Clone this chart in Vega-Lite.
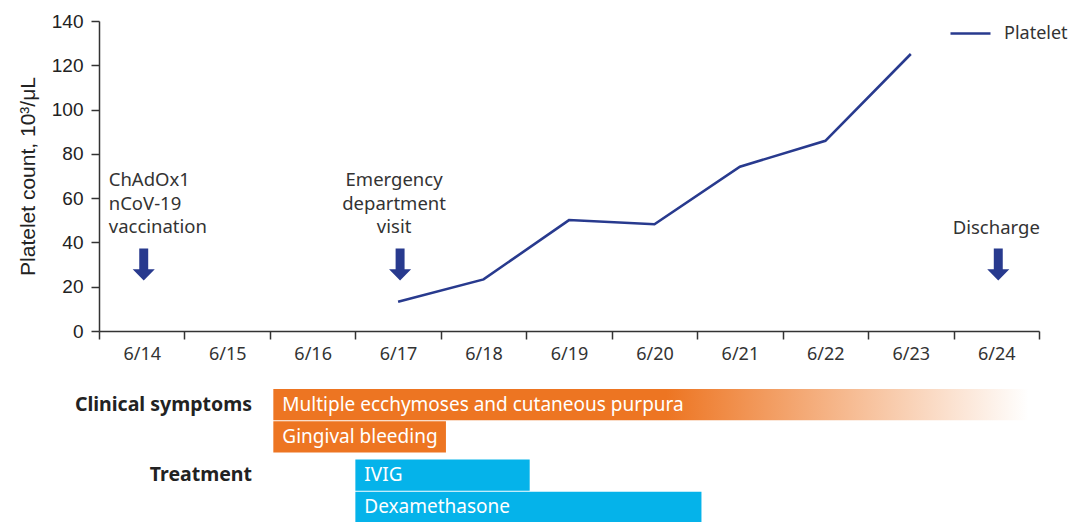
{
  "$schema": "https://vega.github.io/schema/vega-lite/v6.json",
  "background": "white",
  "padding": {"left": 17, "top": 12, "right": 0, "bottom": 0},
  "spacing": 25,
  "resolve": {"scale": {"color": "independent", "x": "independent", "y": "independent"}, "legend": {"color": "independent"}},
  "config": {
    "view": {"stroke": null},
    "font": "Noto Sans",
    "axis": {"domainColor": "#333333", "tickColor": "#333333", "domainWidth": 1.5, "tickWidth": 1.5, "grid": false}
  },
  "datasets": {
    "platelet": [
      {"date": "6/17", "count": 13.2, "series": "Platelet"},
      {"date": "6/18", "count": 23.3, "series": "Platelet"},
      {"date": "6/19", "count": 50.1, "series": "Platelet"},
      {"date": "6/20", "count": 48.2, "series": "Platelet"},
      {"date": "6/21", "count": 74.2, "series": "Platelet"},
      {"date": "6/22", "count": 85.9, "series": "Platelet"},
      {"date": "6/23", "count": 125.1, "series": "Platelet"}
    ],
    "events": [
      {"date": "6/14", "label": "ChAdOx1\nnCoV-19\nvaccination"},
      {"date": "6/17", "label": "Emergency\ndepartment\nvisit"},
      {"date": "6/24", "label": "Discharge"}
    ],
    "bars": [
      {"group": "Clinical symptoms", "line": 1, "task": "Multiple ecchymoses and cutaneous purpura", "start": 16.04, "end": 24.88, "fade": "yes"},
      {"group": "Clinical symptoms", "line": 2, "task": "Gingival bleeding", "start": 16.04, "end": 18.06, "fade": "no"},
      {"group": "Treatment", "line": 1, "task": "IVIG", "start": 17.0, "end": 19.04, "fade": "no"},
      {"group": "Treatment", "line": 2, "task": "Dexamethasone", "start": 17.0, "end": 21.05, "fade": "no"}
    ],
    "groups": [
      {"group": "Clinical symptoms", "line": 1},
      {"group": "Treatment", "line": 1}
    ]
  },
  "vconcat": [
    {
      "width": 940,
      "height": 310,
      "encoding": {
        "x": {
          "field": "date",
          "type": "ordinal",
          "scale": {"domain": ["6/14", "6/15", "6/16", "6/17", "6/18", "6/19", "6/20", "6/21", "6/22", "6/23", "6/24"], "paddingInner": 0, "paddingOuter": 0},
          "axis": {"title": null, "labelAngle": 0, "tickBand": "extent", "tickSize": 8, "labelPadding": 6, "labelFontSize": 18, "labelColor": "#333333", "labelFont": "Noto Sans"}
        }
      },
      "layer": [
        {
          "data": {"name": "platelet"},
          "mark": {"type": "line", "strokeWidth": 2.6},
          "encoding": {
            "y": {
              "field": "count",
              "type": "quantitative",
              "scale": {"domain": [0, 140], "nice": false},
              "axis": {"title": "Platelet count, 10³/μL", "values": [0, 20, 40, 60, 80, 100, 120, 140], "tickSize": 8, "labelPadding": 8, "labelFontSize": 19, "labelFont": "Liberation Sans", "labelColor": "#222222", "titleFont": "Liberation Sans", "titleFontSize": 21, "titleFontWeight": "normal", "titleColor": "#222222", "titlePadding": 13}
            },
            "color": {
              "field": "series",
              "type": "nominal",
              "scale": {"domain": ["Platelet"], "range": ["#283A8E"]},
              "legend": {"title": null, "orient": "none", "legendX": 850, "legendY": -9, "symbolType": "stroke", "symbolSize": 1600, "symbolStrokeWidth": 2.6, "labelFontSize": 18, "labelFont": "Noto Sans", "labelColor": "#333333", "labelOffset": 12, "padding": 0}
            }
          }
        },
        {
          "data": {"name": "events"},
          "mark": {"type": "point", "shape": "M-0.28,-1L0.28,-1L0.28,0.3L0.69,0.3L0,1L-0.69,0.3L-0.28,0.3Z", "filled": true, "opacity": 1, "color": "#283A8E", "size": 1024, "xOffset": 2},
          "encoding": {"y": {"datum": 30}}
        },
        {
          "data": {"name": "events"},
          "transform": [{"filter": "datum.date === '6/14'"}],
          "mark": {"type": "text", "align": "left", "baseline": "bottom", "dx": -33, "lineBreak": "\n", "lineHeight": 23.5, "fontSize": 18.5, "font": "Noto Sans", "color": "#333333"},
          "encoding": {"y": {"datum": 63.5}, "text": {"field": "label"}}
        },
        {
          "data": {"name": "events"},
          "transform": [{"filter": "datum.date === '6/17'"}],
          "mark": {"type": "text", "align": "center", "baseline": "bottom", "dx": -4, "lineBreak": "\n", "lineHeight": 23.5, "fontSize": 18.5, "font": "Noto Sans", "color": "#333333"},
          "encoding": {"y": {"datum": 63.5}, "text": {"field": "label"}}
        },
        {
          "data": {"name": "events"},
          "transform": [{"filter": "datum.date === '6/24'"}],
          "mark": {"type": "text", "align": "center", "baseline": "bottom", "lineBreak": "\n", "lineHeight": 23.5, "fontSize": 18.5, "font": "Noto Sans", "color": "#333333"},
          "encoding": {"y": {"datum": 42.1}, "text": {"field": "label"}}
        }
      ]
    },
    {
      "width": 940,
      "height": 134,
      "data": {"name": "bars"},
      "encoding": {
        "y": {"field": "group", "type": "nominal", "scale": {"domain": ["Clinical symptoms", "Treatment"], "paddingInner": 0.1, "paddingOuter": 0}, "axis": null},
        "yOffset": {"field": "line", "type": "ordinal", "scale": {"domain": [1, 2], "paddingInner": 0.03, "paddingOuter": 0}}
      },
      "layer": [
        {
          "transform": [{"filter": "datum.fade === 'yes'"}],
          "mark": {"type": "bar", "cornerRadius": 0, "fill": {"gradient": "linear", "x1": 0, "x2": 1, "y1": 0, "y2": 0, "stops": [{"offset": 0, "color": "#ED7522"}, {"offset": 0.52, "color": "#ED7522"}, {"offset": 1, "color": "#FFFFFF"}]}},
          "encoding": {
            "x": {"field": "start", "type": "quantitative", "scale": {"domain": [14, 25], "nice": false, "zero": false}, "axis": null},
            "x2": {"field": "end"}
          }
        },
        {
          "transform": [{"filter": "datum.fade === 'no'"}],
          "mark": {"type": "bar", "cornerRadius": 0},
          "encoding": {
            "x": {"field": "start", "type": "quantitative", "scale": {"domain": [14, 25], "nice": false, "zero": false}, "axis": null},
            "x2": {"field": "end"},
            "color": {"field": "group", "type": "nominal", "scale": {"domain": ["Clinical symptoms", "Treatment"], "range": ["#ED7522", "#05B3EA"]}, "legend": null}
          }
        },
        {
          "mark": {"type": "text", "align": "left", "baseline": "middle", "dx": 9, "fontSize": 19, "font": "Noto Sans", "color": "#FFFFFF"},
          "encoding": {
            "x": {"field": "start", "type": "quantitative"},
            "text": {"field": "task"}
          }
        },
        {
          "data": {"name": "groups"},
          "mark": {"type": "text", "align": "right", "baseline": "middle", "fontSize": 19.5, "fontWeight": "bold", "font": "Noto Sans", "color": "#222222"},
          "encoding": {
            "x": {"datum": 15.79},
            "text": {"field": "group"}
          }
        }
      ]
    }
  ]
}
